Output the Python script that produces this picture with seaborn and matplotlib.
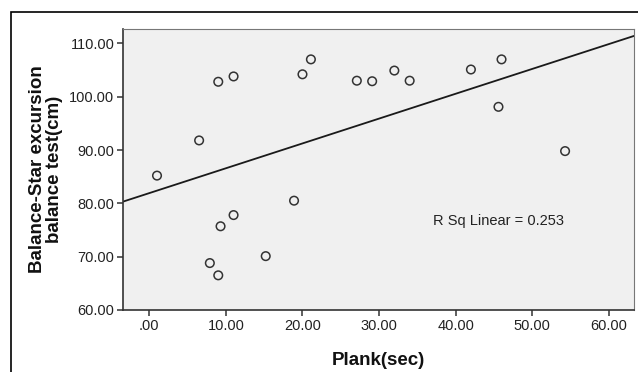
import matplotlib
matplotlib.use("Agg")
import matplotlib.pyplot as plt
import seaborn as sns
import pandas as pd
from matplotlib.patches import Rectangle

# values
plank_sec = [1.0, 6.5, 9.0, 11.0, 20.0, 21.1, 27.1, 29.1, 32.0, 34.0,
             42.0, 46.0, 45.6, 54.3, 18.9, 11.0, 9.3, 7.9, 9.0, 15.2]
balance_cm = [85.2, 91.8, 102.8, 103.8, 104.2, 107.0, 103.0, 102.9, 104.9, 103.0,
              105.1, 107.0, 98.1, 89.8, 80.5, 77.8, 75.7, 68.8, 66.5, 70.1]

x_ticks = [0, 10, 20, 30, 40, 50, 60]
x_tick_labels = ['.00', '10.00', '20.00', '30.00', '40.00', '50.00', '60.00']
y_ticks = [60, 70, 80, 90, 100, 110]
y_tick_labels = ['60.00', '70.00', '80.00', '90.00', '100.00', '110.00']
r_sq_text = 'R Sq Linear = 0.253'

df = pd.DataFrame({'plank': plank_sec, 'balance': balance_cm})

sns.set_style('white')
plt.rcParams['font.family'] = ['Liberation Sans', 'DejaVu Sans']

fig = plt.figure(figsize=(6.38, 3.72), dpi=100)
ax = fig.add_axes([0.1933, 0.1667, 0.8004, 0.7554])
ax.set_facecolor('#f0f0f0')
ax.set_xlim(-3.4, 63.3)
ax.set_ylim(60, 112.7)

sns.regplot(data=df, x='plank', y='balance', ax=ax, ci=None, truncate=False,
            scatter_kws=dict(s=38, color='#333333', facecolors='none',
                             linewidths=1.1, alpha=1, zorder=3),
            line_kws=dict(color='#1a1a1a', lw=1.3))

ax.set_xticks(x_ticks)
ax.set_xticklabels(x_tick_labels)
ax.set_yticks(y_ticks)
ax.set_yticklabels(y_tick_labels)
ax.tick_params(direction='out', length=4.5, width=1.1, color='#333333',
               labelsize=10.5, labelcolor='#222222', pad=2, bottom=True, left=True)

for side in ['left', 'bottom']:
    ax.spines[side].set_color('#333333')
    ax.spines[side].set_linewidth(1.2)
for side in ['top', 'right']:
    ax.spines[side].set_color('#777777')
    ax.spines[side].set_linewidth(0.8)

ax.set_xlabel('Plank(sec)', fontsize=13.5, fontweight='bold', color='#111111')
ax.xaxis.set_label_coords(0.5, -0.15)
ax.set_ylabel('Balance-Star excursion\nbalance test(cm)', fontsize=13.5,
              fontweight='bold', color='#111111', multialignment='center',
              linespacing=1.0)
ax.yaxis.set_label_coords(-0.118, 0.5)

ax.text(37.0, 76.6, r_sq_text, fontsize=10.5, color='#222222', va='center', ha='left')

# outer frame, cut off at the right and bottom like in the reference
fig.patches.append(Rectangle((11 / 638, -0.2), 1.2, 1 - 12 / 372 + 0.2,
                             transform=fig.transFigure, fill=False,
                             edgecolor='black', lw=1.2))

fig.savefig('out.png', dpi=100)
